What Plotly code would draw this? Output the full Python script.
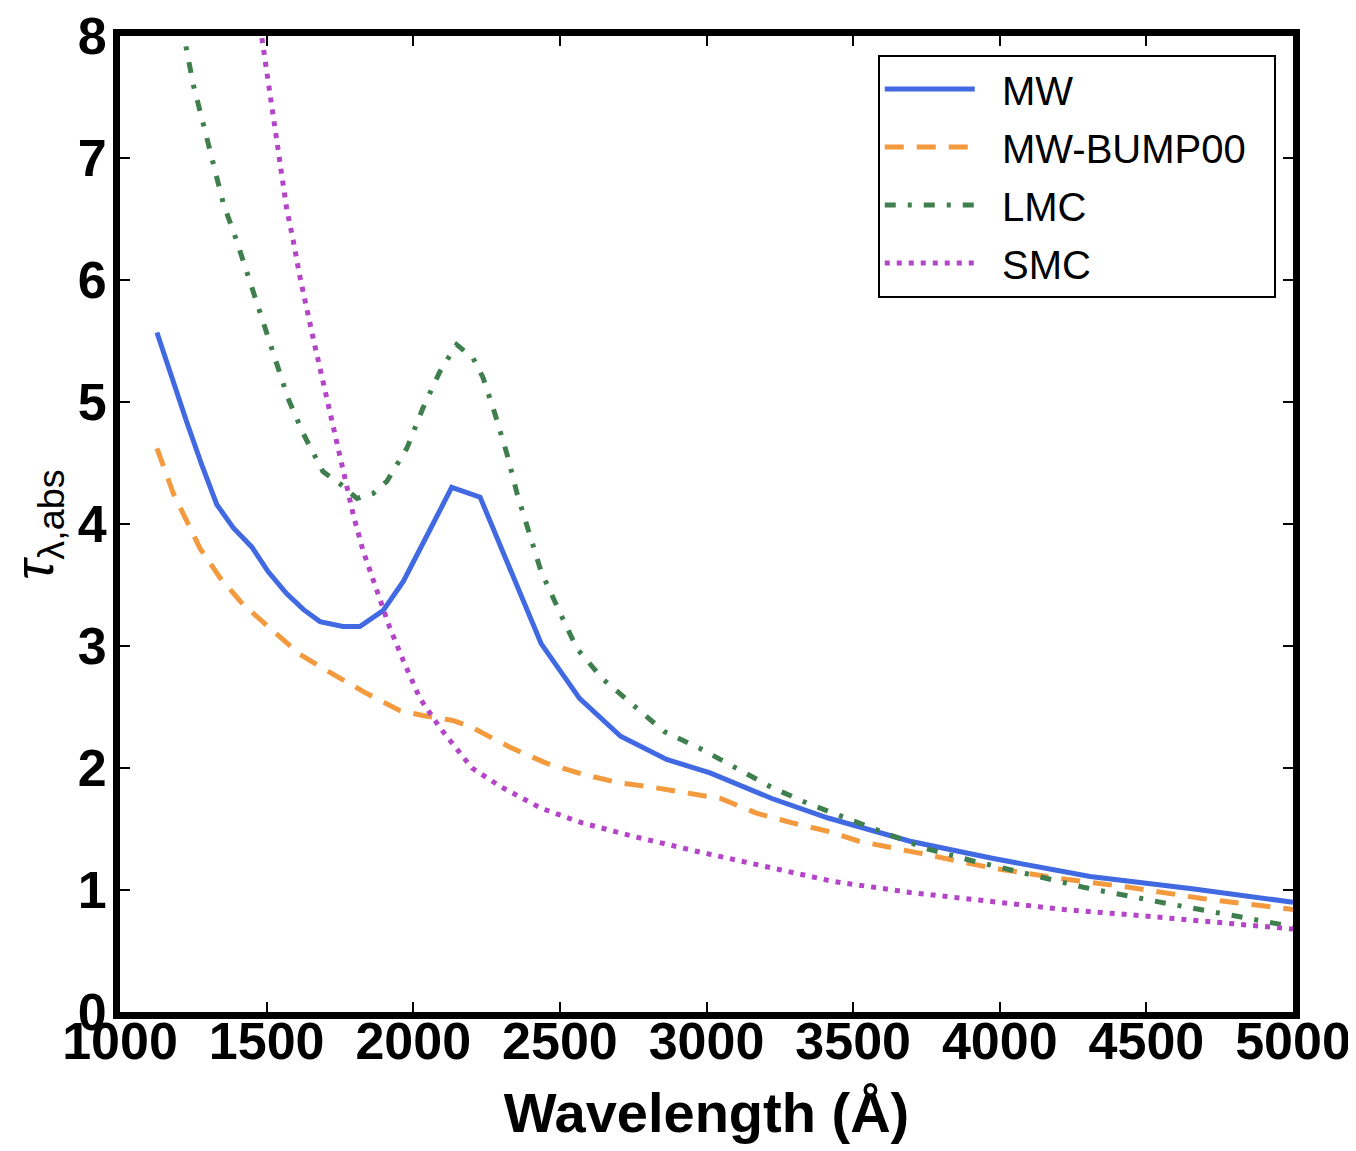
import plotly.graph_objects as go

# ---------------- data ----------------
mw_lam = [1126, 1176, 1227, 1278, 1330, 1386, 1450, 1505, 1568, 1625, 1682, 1760, 1818,
          1897, 1966, 2050, 2131, 2228, 2330, 2436, 2567, 2707, 2864, 3012, 3223, 3415,
          3694, 3974, 4308, 4656, 5000]
mw_tau = [5.57, 5.20, 4.84, 4.49, 4.16, 3.97, 3.81, 3.61, 3.43, 3.30, 3.20, 3.16, 3.16,
          3.29, 3.53, 3.92, 4.30, 4.22, 3.63, 3.02, 2.57, 2.26, 2.07, 1.96, 1.75, 1.59,
          1.40, 1.26, 1.11, 1.01, 0.90]

bump_lam = [1126, 1182, 1273, 1341, 1420, 1522, 1614, 1726, 1842, 1955, 2033, 2135, 2194,
            2330, 2453, 2576, 2698, 2821, 2944, 3048, 3170, 3292, 3415, 3520, 3730, 3974,
            4219, 4447, 4690, 5000]
bump_tau = [4.62, 4.25, 3.80, 3.56, 3.34, 3.12, 2.93, 2.77, 2.61, 2.47, 2.43, 2.39, 2.34,
            2.17, 2.04, 1.95, 1.88, 1.84, 1.79, 1.75, 1.63, 1.55, 1.48, 1.40, 1.30, 1.18,
            1.09, 1.02, 0.93, 0.84]

lmc_lam = [1210, 1250, 1284, 1318, 1352, 1398, 1443, 1488, 1528, 1573, 1625, 1692, 1750,
           1808, 1863, 1910, 1978, 2033, 2091, 2148, 2204, 2238, 2279, 2320, 2354, 2398,
           2436, 2497, 2558, 2646, 2750, 2855, 2978, 3100, 3223, 3345, 3486, 3626, 3748,
           3906, 4131, 4290, 4570, 4833, 5000]
lmc_tau = [8.10, 7.60, 7.28, 6.95, 6.63, 6.32, 5.99, 5.68, 5.36, 5.03, 4.74, 4.43, 4.33,
           4.21, 4.25, 4.35, 4.62, 4.95, 5.25, 5.47, 5.36, 5.20, 4.90, 4.57, 4.25, 3.92,
           3.61, 3.29, 2.98, 2.73, 2.51, 2.30, 2.16, 2.00, 1.84, 1.71, 1.58, 1.46, 1.34,
           1.24, 1.11, 1.02, 0.89, 0.77, 0.70]

smc_lam = [1478, 1500, 1517, 1534, 1551, 1568, 1591, 1614, 1659, 1692, 1726, 1760, 1795,
           1829, 1876, 1920, 1966, 2023, 2091, 2200, 2296, 2436, 2576, 2750, 2961, 3170,
           3432, 3694, 3957, 4219, 4481, 4743, 5000]
smc_tau = [8.08, 7.71, 7.44, 7.14, 6.87, 6.59, 6.32, 6.02, 5.52, 5.17, 4.79, 4.43, 4.08,
           3.78, 3.45, 3.15, 2.88, 2.57, 2.33, 2.00, 1.85, 1.67, 1.55, 1.44, 1.32, 1.21,
           1.07, 0.98, 0.91, 0.84, 0.79, 0.73, 0.68]

x_ticks = [1000, 1500, 2000, 2500, 3000, 3500, 4000, 4500, 5000]
y_ticks = [0, 1, 2, 3, 4, 5, 6, 7, 8]

series = [
    ("MW", mw_lam, mw_tau, "#4169E1", "solid"),
    ("MW-BUMP00", bump_lam, bump_tau, "#F39A3E", "19px,13px"),
    ("LMC", lmc_lam, lmc_tau, "#3F7F4E", "11px,12px,4px,12px"),
    ("SMC", smc_lam, smc_tau, "#B444C8", "5px,7px"),
]

FONT = "Liberation Sans, Arial, sans-serif"

fig = go.Figure()
for name, lam, tau, color, dash in series:
    fig.add_trace(go.Scatter(
        x=lam, y=tau, mode="lines", name="  " + name + "  ", legendgroup=name,
        line=dict(color=color, width=5, dash=dash),
    ))

axis_common = dict(
    showline=True, linecolor="black", linewidth=7, mirror="ticks",
    ticks="inside", ticklen=10, tickwidth=2, tickcolor="black",
    showgrid=False, zeroline=False, automargin=False,
    ticklabeloverflow="allow",
    tickfont=dict(family=FONT, size=52, color="black", weight="bold"),
)

# the page body adds an 8 px margin, so the figure is 8 px smaller than the window
fig.update_layout(
    width=1348, height=1143,
    margin=dict(l=112, r=63, t=28, b=139),
    paper_bgcolor="white", plot_bgcolor="white",
    showlegend=True,
    legend=dict(
        x=0.646, y=0.981, xanchor="left", yanchor="top",
        bgcolor="white", bordercolor="black", borderwidth=2,
        font=dict(family=FONT, size=40, color="black"),
        tracegroupgap=3, itemwidth=90,
    ),
    xaxis=dict(
        range=[1000, 5000], tickvals=x_ticks, ticktext=[str(v) for v in x_ticks],
        ticklabelstandoff=-22,
        title=dict(text="Wavelength (Å)", standoff=26,
                   font=dict(family=FONT, size=56, color="black", weight="bold")),
        **axis_common,
    ),
    yaxis=dict(
        range=[0, 8], tickvals=y_ticks, ticktext=[str(v) for v in y_ticks],
        ticklabelstandoff=-4,
        **axis_common,
    ),
    annotations=[dict(
        text="<i>τ</i><sub>λ,abs</sub>", textangle=-90,
        xref="paper", yref="paper", x=-0.0700, y=0.5,
        xanchor="center", yanchor="middle", showarrow=False,
        font=dict(family=FONT, size=54, color="black"),
    )],
)

fig.write_html("out.html")
